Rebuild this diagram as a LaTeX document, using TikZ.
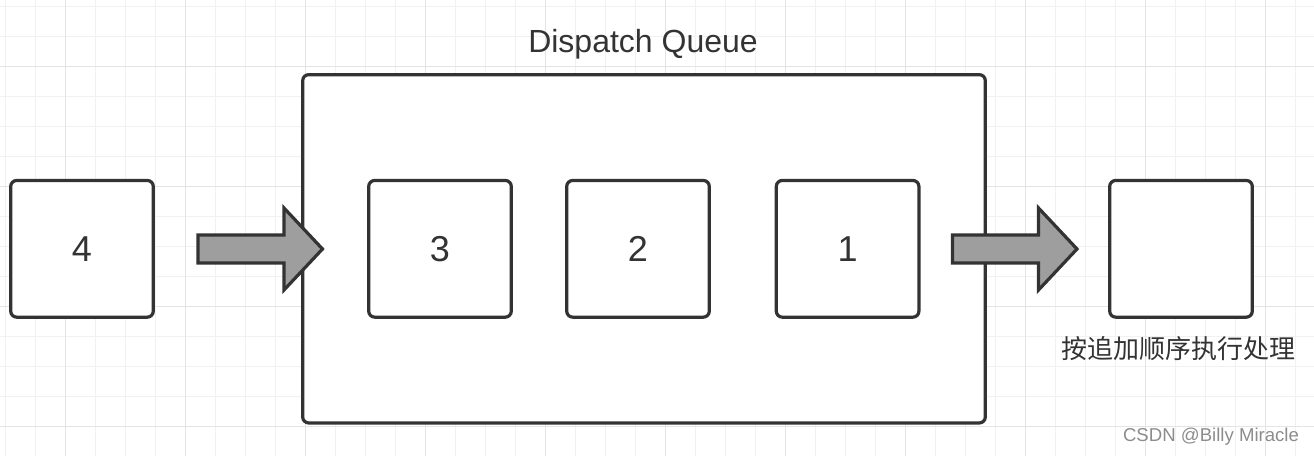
\documentclass[tikz,border=0pt]{standalone}
\usepackage{fontspec}
\setmainfont{Liberation Sans}
\newfontfamily\cjk{Noto Sans CJK SC}
\definecolor{gridminor}{HTML}{F1F1F1}
\definecolor{gridmajor}{HTML}{E4E4E4}
\definecolor{edge}{HTML}{333333}
\definecolor{arrowgray}{HTML}{9E9E9E}
\tikzset{
  item/.style={draw=edge, fill=white, line width=3.2pt, rounded corners=6pt,
    minimum width=142.6pt, minimum height=136.7pt, inner sep=0pt,
    text=edge, font=\fontsize{36}{40}\selectfont},
  fatarrow/.style={draw=edge, fill=arrowgray, line width=3.2pt, line join=miter},
}
\begin{document}
\begin{tikzpicture}[x=1pt,y=-1pt]
  \useasboundingbox (0,0) rectangle (1314,456);
  % grid
  \foreach \gx in {5,35,...,1314} \draw[gridminor, line width=1pt] (\gx,0) -- (\gx,456);
  \foreach \gy in {6.7,36.7,...,456} \draw[gridminor, line width=1pt] (0,\gy) -- (1314,\gy);
  \foreach \gx in {65,185,...,1314} \draw[gridmajor, line width=1pt] (\gx,0) -- (\gx,456);
  \foreach \gy in {66.7,186.7,...,456} \draw[gridmajor, line width=1pt] (0,\gy) -- (1314,\gy);

  % queue
  \node[item, minimum width=682.6pt, minimum height=348.3pt] (queue) at (644,248.8) {};
  \node[text=edge, font=\fontsize{32}{36}\selectfont] (title) at (643,44) {Dispatch Queue};

  \node[item] (task4) at (82,248.8) {4};
  \node[item] (task3) at (440,248.8) {3};
  \node[item] (task2) at (638,248.8) {2};
  \node[item] (task1) at (847.6,248.8) {1};
  \node[item] (done) at (1181,248.8) {};
  \node[text=edge, font=\cjk\fontsize{26}{30}\selectfont] (note) at (1178,349) {按追加顺序执行处理};

  % big arrows
  \draw[fatarrow] (198,235) -- ++(86,0) -- ++(0,-27) -- ++(38.5,41) -- ++(-38.5,41)
    -- ++(0,-27) -- ++(-86,0) -- cycle;
  \draw[fatarrow] (952.5,235) -- ++(86,0) -- ++(0,-27) -- ++(38.5,41) -- ++(-38.5,41)
    -- ++(0,-27) -- ++(-86,0) -- cycle;

  \node[text=black!45, font=\fontsize{18.6}{22}\selectfont] (mark) at (1211,437) {CSDN @Billy Miracle};
\end{tikzpicture}
\end{document}
